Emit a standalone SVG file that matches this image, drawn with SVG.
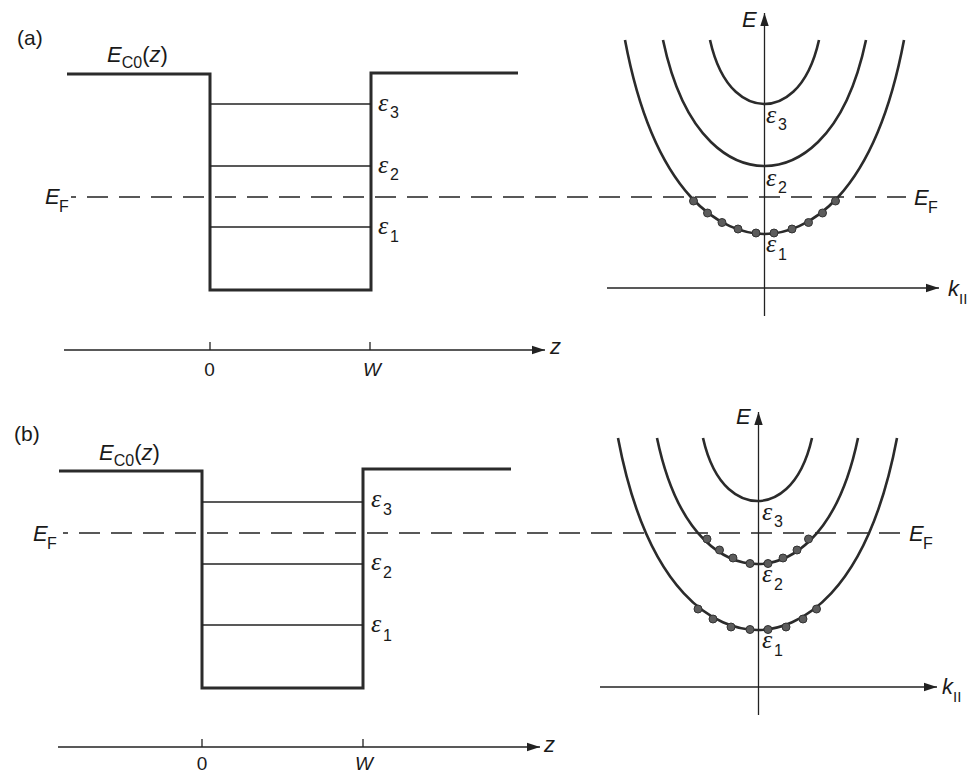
<svg xmlns="http://www.w3.org/2000/svg" width="969" height="773" viewBox="0 0 969 773">
<defs>
<marker id="arr" markerUnits="userSpaceOnUse" markerWidth="14" markerHeight="10" refX="13" refY="5" orient="auto">
<path d="M0,0.8 L13,5 L0,9.2 Z" fill="#222"/>
</marker>
<style>
.well{fill:none;stroke:#2b2b2b;stroke-width:3}
.lvl{stroke:#222;stroke-width:1.3}
.ef{stroke:#222;stroke-width:1.3;stroke-dasharray:21 11;stroke-dashoffset:16}
.ax{stroke:#222;stroke-width:1.3;fill:none}
.par{fill:none;stroke:#2b2b2b;stroke-width:2.6}
.dot{fill:#5c5c5c;stroke:#333;stroke-width:1}
text{font-family:"Liberation Sans",Arial,sans-serif;fill:#1a1a1a}
.it{font-style:italic}
.L{font-size:22px}
.S{font-size:16px}
.eps{font-family:"Liberation Serif","Times New Roman",serif;font-style:italic;font-size:26px}
.num{font-size:19px}
.pl{font-size:21px}
.kk{font-size:15px}
</style>
</defs>

<!-- ================= PANEL (a) ================= -->
<g id="panel-a-label"><text x="17" y="45" class="pl">(a)</text></g>

<g id="a-well">
<text x="107" y="62" class="L"><tspan class="it">E</tspan><tspan class="S" dy="6">C0</tspan><tspan dy="-6">(</tspan><tspan class="it">z</tspan>)</text>
<path class="well" d="M67,74 H210 V290 H371 V73 H518"/>
</g>

<g id="a-levels">
<line class="lvl" x1="210" y1="104" x2="371" y2="104"/>
<line class="lvl" x1="210" y1="166" x2="371" y2="166"/>
<line class="lvl" x1="210" y1="227" x2="371" y2="227"/>
<text x="378" y="111" class="eps">ε</text><text x="390" y="118" class="S">3</text>
<text x="378" y="173" class="eps">ε</text><text x="390" y="180" class="S">2</text>
<text x="378" y="234" class="eps">ε</text><text x="390" y="242" class="S">1</text>
</g>

<g id="a-fermi">
<line class="ef" x1="71" y1="197" x2="906" y2="197"/>
<text x="45" y="204" class="L it">E</text><text x="59" y="212" class="S">F</text>
<text x="914" y="205" class="L it">E</text><text x="928" y="213" class="S">F</text>
</g>

<g id="a-z-axis">
<line class="ax" x1="64" y1="350" x2="545" y2="350" marker-end="url(#arr)"/>
<line class="ax" x1="210" y1="342" x2="210" y2="350"/>
<line class="ax" x1="370" y1="342" x2="370" y2="350"/>
<text x="209.5" y="376" class="num" text-anchor="middle">0</text>
<text x="372" y="376" class="num it" text-anchor="middle">W</text>
<text x="550" y="354" class="L it">z</text>
</g>

<g id="a-dispersion">
<line class="ax" x1="764.5" y1="316" x2="764.5" y2="13" marker-end="url(#arr)"/>
<line class="ax" x1="607" y1="288" x2="939" y2="288" marker-end="url(#arr)"/>
<text x="742" y="27" class="L it">E</text>
<text x="948" y="296" class="L it">k</text><text x="959" y="304" class="kk">II</text>
<path class="par" d="M710,40 C721.8,92.8 748.7,104 764.5,104 C780.3,104 807.2,92.8 819,40"/>
<path class="par" d="M663,40 C684.9,144 735.1,166 764.5,166 C793.9,166 844.1,144 866,40"/>
<path class="par" d="M625,40 C655.1,200 724,234 764.5,234 C805,234 873.9,200 904,40"/>
<text x="766" y="123" class="eps">ε</text><text x="778" y="130" class="S">3</text>
<text x="766" y="186" class="eps">ε</text><text x="778" y="193" class="S">2</text>
<text x="766" y="252" class="eps">ε</text><text x="778" y="260" class="S">1</text>
</g>

<g id="a-electrons">
<circle class="dot" cx="693.5" cy="201" r="4"/>
<circle class="dot" cx="707.5" cy="213" r="4"/>
<circle class="dot" cx="722" cy="222.5" r="4"/>
<circle class="dot" cx="738" cy="229" r="4"/>
<circle class="dot" cx="756" cy="233" r="4"/>
<circle class="dot" cx="774" cy="233" r="4"/>
<circle class="dot" cx="792" cy="229" r="4"/>
<circle class="dot" cx="808.5" cy="222.5" r="4"/>
<circle class="dot" cx="822.5" cy="213" r="4"/>
<circle class="dot" cx="835.5" cy="201" r="4"/>
</g>

<!-- ================= PANEL (b) ================= -->
<g id="panel-b-label"><text x="14" y="441" class="pl">(b)</text></g>

<g id="b-well">
<text x="99" y="460" class="L"><tspan class="it">E</tspan><tspan class="S" dy="6">C0</tspan><tspan dy="-6">(</tspan><tspan class="it">z</tspan>)</text>
<path class="well" d="M59,471 H202 V688 H363 V469 H511"/>
</g>

<g id="b-levels">
<line class="lvl" x1="202" y1="502" x2="363" y2="502"/>
<line class="lvl" x1="202" y1="564" x2="363" y2="564"/>
<line class="lvl" x1="202" y1="625" x2="363" y2="625"/>
<text x="371" y="507" class="eps">ε</text><text x="383" y="515" class="S">3</text>
<text x="371" y="570" class="eps">ε</text><text x="383" y="578" class="S">2</text>
<text x="371" y="632" class="eps">ε</text><text x="383" y="641" class="S">1</text>
</g>

<g id="b-fermi">
<line class="ef" x1="63" y1="533" x2="902" y2="533"/>
<text x="33" y="541" class="L it">E</text><text x="47" y="549" class="S">F</text>
<text x="909" y="541" class="L it">E</text><text x="923" y="549" class="S">F</text>
</g>

<g id="b-z-axis">
<line class="ax" x1="58" y1="747" x2="540" y2="747" marker-end="url(#arr)"/>
<line class="ax" x1="202" y1="739" x2="202" y2="747"/>
<line class="ax" x1="363" y1="739" x2="363" y2="747"/>
<text x="202" y="770" class="num" text-anchor="middle">0</text>
<text x="364" y="770" class="num it" text-anchor="middle">W</text>
<text x="544" y="752" class="L it">z</text>
</g>

<g id="b-dispersion">
<line class="ax" x1="758.5" y1="715" x2="758.5" y2="412" marker-end="url(#arr)"/>
<line class="ax" x1="600" y1="687" x2="937" y2="687" marker-end="url(#arr)"/>
<text x="736" y="424" class="L it">E</text>
<text x="942" y="694" class="L it">k</text><text x="953" y="702" class="kk">II</text>
<path class="par" d="M703,438 C714.8,490 741.7,501 757.5,501 C773.3,501 800.2,490 812,438"/>
<path class="par" d="M657,438 C678.7,542 728.4,564 757.5,564 C786.6,564 836.3,542 858,438"/>
<path class="par" d="M618,438 C648.1,596.4 717,630 757.5,630 C798,630 866.9,596.4 897,438"/>
<text x="762" y="520" class="eps">ε</text><text x="774" y="527" class="S">3</text>
<text x="762" y="582" class="eps">ε</text><text x="774" y="590" class="S">2</text>
<text x="762" y="648" class="eps">ε</text><text x="774" y="656" class="S">1</text>
</g>

<g id="b-electrons">
<circle class="dot" cx="707" cy="539" r="4"/>
<circle class="dot" cx="719.5" cy="550" r="4"/>
<circle class="dot" cx="733" cy="558" r="4"/>
<circle class="dot" cx="750" cy="563.5" r="4"/>
<circle class="dot" cx="768" cy="563.5" r="4"/>
<circle class="dot" cx="783" cy="558" r="4"/>
<circle class="dot" cx="797" cy="550" r="4"/>
<circle class="dot" cx="808.5" cy="539" r="4"/>
<circle class="dot" cx="698" cy="609" r="4"/>
<circle class="dot" cx="713" cy="619" r="4"/>
<circle class="dot" cx="731" cy="627" r="4"/>
<circle class="dot" cx="750" cy="629.5" r="4"/>
<circle class="dot" cx="768" cy="629.5" r="4"/>
<circle class="dot" cx="786" cy="627" r="4"/>
<circle class="dot" cx="803" cy="619" r="4"/>
<circle class="dot" cx="816.5" cy="609" r="4"/>
</g>
</svg>
